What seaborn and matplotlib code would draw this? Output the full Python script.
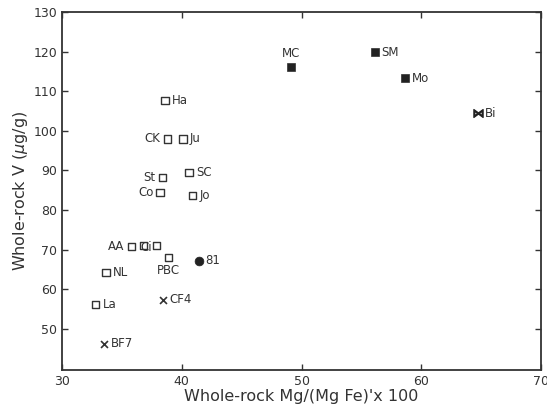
import pandas as pd
import matplotlib.pyplot as plt
import seaborn as sns

# samples
labels = ['Ha', 'CK', 'Ju', 'St', 'SC', 'Co', 'Jo', 'AA', 'Ci', '', 'PBC', 'NL', 'La',
          'MC', 'SM', 'Mo', 'Bi', '81', 'CF4', 'BF7']
mg_number = [38.6, 38.8, 40.1, 38.4, 40.6, 38.2, 40.9, 35.8, 36.8, 37.9, 38.9, 33.7, 32.8,
             49.1, 56.1, 58.6, 64.7, 41.4, 38.4, 33.5]
vanadium = [107.7, 98.0, 98.0, 88.2, 89.5, 84.4, 83.7, 70.8, 71.0, 71.0, 68.0, 64.2, 56.1,
            116.1, 119.9, 113.3, 104.4, 67.2, 57.3, 46.2]
group = ['open'] * 13 + ['filled'] * 3 + ['bowtie', 'circle', 'cross', 'cross']

df = pd.DataFrame({'label': labels, 'x': mg_number, 'y': vanadium, 'group': group})

# where each label sits relative to its point (offset in points, alignment)
label_pos = {
    'left': ((-5, 0), 'right', 'center'),
    'right': ((5, 0), 'left', 'center'),
    'on': ((-2, -1), 'left', 'center'),
    'above': ((0, 5), 'center', 'bottom'),
    'below': ((0, -5), 'center', 'top'),
}
label_side = {'CK': 'left', 'St': 'left', 'Co': 'left', 'AA': 'left', 'Ci': 'on',
              'MC': 'above', 'PBC': 'below'}

sns.set_style('ticks')
plt.rcParams['font.family'] = ['DejaVu Sans']

fig = plt.figure(figsize=(5.47, 4.18), dpi=100)
ax = fig.add_axes([0.1133, 0.115, 0.876, 0.856])

sub = df[df.group == 'open']
sns.scatterplot(data=sub, x='x', y='y', marker='s', s=30, facecolors='none',
                edgecolor='#333333', linewidth=1.0, ax=ax)
sub = df[df.group == 'filled']
sns.scatterplot(data=sub, x='x', y='y', marker='s', s=30, color='#222222',
                edgecolor='#222222', ax=ax)
sub = df[df.group == 'circle']
sns.scatterplot(data=sub, x='x', y='y', marker='o', s=40, color='#222222',
                edgecolor='#222222', ax=ax)
sub = df[df.group == 'cross']
sns.scatterplot(data=sub, x='x', y='y', marker='x', s=25, color='#333333',
                linewidth=1.2, ax=ax)
sub = df[df.group == 'bowtie']
sns.scatterplot(data=sub, x='x', y='y', marker='$\\bowtie$', s=45, color='#222222',
                edgecolor='#222222', linewidth=0.8, ax=ax)

for _, r in df.iterrows():
    if not r['label']:
        continue
    off, ha, va = label_pos[label_side.get(r['label'], 'right')]
    ax.annotate(r['label'], (r['x'], r['y']), xytext=off, textcoords='offset points',
                ha=ha, va=va, fontsize=8.5, color='#333333')

ax.set_xlim(30, 70)
ax.set_ylim(39.6, 130)
ax.set_xticks([30, 40, 50, 60, 70])
ax.set_yticks([50, 60, 70, 80, 90, 100, 110, 120, 130])
ax.tick_params(direction='in', top=True, right=True, length=4, width=1,
               labelsize=9, colors='#333333', labelcolor='#333333')
for sp in ax.spines.values():
    sp.set_linewidth(1.3)
    sp.set_color('#333333')

ax.set_xlabel("Whole-rock Mg/(Mg Fe)'x 100", fontsize=11.5, color='#333333', labelpad=1)
ax.set_ylabel('Whole-rock V ($\\mu$g/g)', fontsize=11.5, color='#333333', labelpad=2)

fig.savefig('out.png', dpi=100)
